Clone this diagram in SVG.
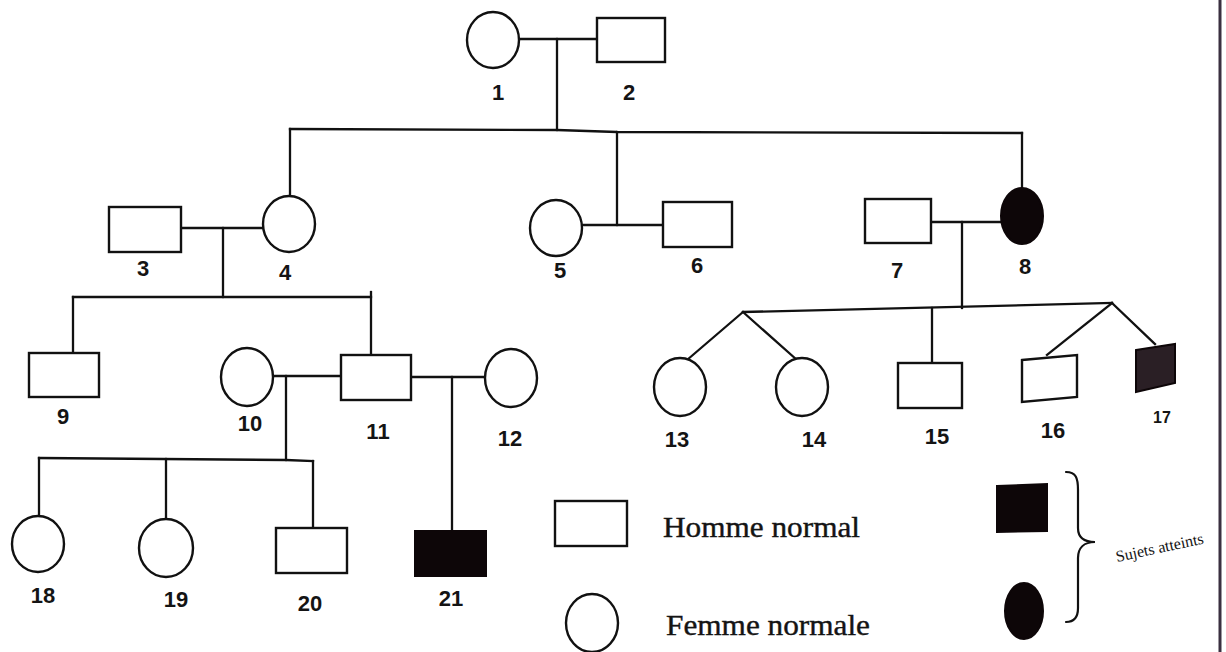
<svg xmlns="http://www.w3.org/2000/svg" width="1226" height="652" viewBox="0 0 1226 652">
  <style>
    .sym { fill: #ffffff; stroke: #111111; stroke-width: 2.4; }
    .aff { fill: #0d0608; stroke: #0d0608; stroke-width: 2; }
    .ln { fill: none; stroke: #111111; stroke-width: 2.3; stroke-linecap: square; }
    .num { font-family: "Liberation Sans", Arial, sans-serif; font-weight: bold; font-size: 22px; fill: #141414; text-anchor: middle; }
    .leg { font-family: "Liberation Serif", "Times New Roman", serif; font-size: 29px; fill: #141414; stroke: #141414; stroke-width: 0.4; }
  </style>
  <rect x="0" y="0" width="1226" height="652" fill="#ffffff"/>

  <!-- lines of descent and mating lines -->
  <g id="connectors">
    <!-- 1 x 2 -->
    <line class="ln" x1="519" y1="39" x2="597" y2="39"/>
    <line class="ln" x1="557" y1="39" x2="557" y2="130"/>
    <polyline class="ln" points="290,129 557,130 617,132 1022,133"/>
    <line class="ln" x1="290" y1="129" x2="290" y2="196"/>
    <line class="ln" x1="617" y1="132" x2="617" y2="225"/>
    <line class="ln" x1="1022" y1="133" x2="1022" y2="188"/>
    <!-- 3 x 4 -->
    <line class="ln" x1="181" y1="228" x2="263" y2="228"/>
    <line class="ln" x1="223" y1="228" x2="223" y2="297"/>
    <line class="ln" x1="73" y1="297" x2="371" y2="297"/>
    <line class="ln" x1="73" y1="297" x2="73" y2="353"/>
    <line class="ln" x1="371" y1="292" x2="371" y2="355"/>
    <!-- 5 x 6 -->
    <line class="ln" x1="582" y1="225" x2="663" y2="225"/>
    <!-- 7 x 8 -->
    <line class="ln" x1="931" y1="222" x2="1001" y2="222"/>
    <line class="ln" x1="962" y1="222" x2="962" y2="308"/>
    <line class="ln" x1="743" y1="312" x2="1112" y2="303"/>
    <line class="ln" x1="743" y1="312" x2="687" y2="360"/>
    <line class="ln" x1="743" y1="312" x2="797" y2="360"/>
    <line class="ln" x1="932" y1="308" x2="932" y2="363"/>
    <line class="ln" x1="1112" y1="303" x2="1047" y2="355"/>
    <line class="ln" x1="1112" y1="303" x2="1155" y2="344"/>
    <!-- 10 x 11 -->
    <line class="ln" x1="273" y1="376" x2="341" y2="376"/>
    <line class="ln" x1="286" y1="376" x2="286" y2="460"/>
    <polyline class="ln" points="39,458 286,460 313,461"/>
    <line class="ln" x1="39" y1="458" x2="39" y2="516"/>
    <line class="ln" x1="166" y1="459" x2="166" y2="519"/>
    <line class="ln" x1="313" y1="461" x2="313" y2="528"/>
    <!-- 11 x 12 -->
    <line class="ln" x1="411" y1="377" x2="485" y2="377"/>
    <line class="ln" x1="452" y1="377" x2="452" y2="531"/>
  </g>

  <!-- generation I -->
  <g id="n1"><ellipse class="sym" cx="493" cy="40" rx="26" ry="28"/><text class="num" x="498" y="100">1</text></g>
  <g id="n2"><rect class="sym" x="597" y="18" width="68" height="44"/><text class="num" x="629" y="100">2</text></g>

  <!-- generation II -->
  <g id="n3"><rect class="sym" x="109" y="207" width="72" height="45"/><text class="num" x="143" y="276">3</text></g>
  <g id="n4"><ellipse class="sym" cx="289" cy="224" rx="26" ry="28"/><text class="num" x="285" y="280">4</text></g>
  <g id="n5"><ellipse class="sym" cx="556" cy="228" rx="26" ry="28"/><text class="num" x="560" y="278">5</text></g>
  <g id="n6"><rect class="sym" x="663" y="202" width="69" height="45"/><text class="num" x="697" y="273">6</text></g>
  <g id="n7"><rect class="sym" x="865" y="199" width="66" height="44"/><text class="num" x="897" y="278">7</text></g>
  <g id="n8"><ellipse class="aff" cx="1022" cy="216" rx="21" ry="28"/><text class="num" x="1025" y="274">8</text></g>

  <!-- generation III -->
  <g id="n9"><rect class="sym" x="29" y="353" width="70" height="44"/><text class="num" x="63" y="424">9</text></g>
  <g id="n10"><ellipse class="sym" cx="247" cy="377" rx="26" ry="29"/><text class="num" x="250" y="431">10</text></g>
  <g id="n11"><rect class="sym" x="341" y="355" width="70" height="45"/><text class="num" x="378" y="439">11</text></g>
  <g id="n12"><ellipse class="sym" cx="511" cy="378" rx="26" ry="29"/><text class="num" x="510" y="446">12</text></g>
  <g id="n13"><ellipse class="sym" cx="680" cy="387" rx="26" ry="29"/><text class="num" x="677" y="447">13</text></g>
  <g id="n14"><ellipse class="sym" cx="802" cy="387" rx="26" ry="29"/><text class="num" x="814" y="447">14</text></g>
  <g id="n15"><rect class="sym" x="898" y="363" width="64" height="45"/><text class="num" x="937" y="444">15</text></g>
  <g id="n16"><polygon class="sym" points="1022,360 1077,355 1077,397 1022,402"/><text class="num" x="1053" y="438">16</text></g>
  <g id="n17"><polygon class="aff" points="1136,350 1175,344 1175,383 1136,392" style="fill:#2a1f25;stroke:#0d0608"/><text class="num" x="1162" y="423" style="font-size:16px">17</text></g>

  <!-- generation IV -->
  <g id="n18"><ellipse class="sym" cx="38" cy="544" rx="26" ry="28"/><text class="num" x="43" y="603">18</text></g>
  <g id="n19"><ellipse class="sym" cx="166" cy="548" rx="27" ry="29"/><text class="num" x="176" y="607">19</text></g>
  <g id="n20"><rect class="sym" x="276" y="528" width="71" height="45"/><text class="num" x="310" y="611">20</text></g>
  <g id="n21"><rect class="aff" x="415" y="531" width="71" height="45"/><text class="num" x="451" y="606">21</text></g>

  <!-- key -->
  <g id="legend">
    <rect class="sym" x="555" y="501" width="72" height="45"/>
    <text class="leg" x="663" y="537" textLength="197" lengthAdjust="spacingAndGlyphs">Homme normal</text>
    <ellipse class="sym" cx="592" cy="623" rx="26" ry="29"/>
    <text class="leg" x="666" y="635" textLength="204" lengthAdjust="spacingAndGlyphs">Femme normale</text>
    <polygon class="aff" points="997,486 1047,484 1047,531 997,532"/>
    <ellipse class="aff" cx="1024" cy="611" rx="19" ry="28"/>
    <path class="ln" style="stroke-width:2.2;stroke-linecap:round" d="M1066,472 C1076,472 1078,478 1078,490 L1078,528 C1078,538 1084,542 1095,542 C1084,542 1078,548 1078,558 L1078,608 C1078,618 1074,622 1066,622"/>
    <text x="1117" y="562" transform="rotate(-12 1117 562)" style="font-family:'Liberation Serif','Times New Roman',serif;font-size:16px;fill:#141414">Sujets atteints</text>
  </g>

  <!-- page edge -->
  <line x1="1220" y1="0" x2="1220" y2="652" stroke="#3a3040" stroke-width="3"/>
</svg>
